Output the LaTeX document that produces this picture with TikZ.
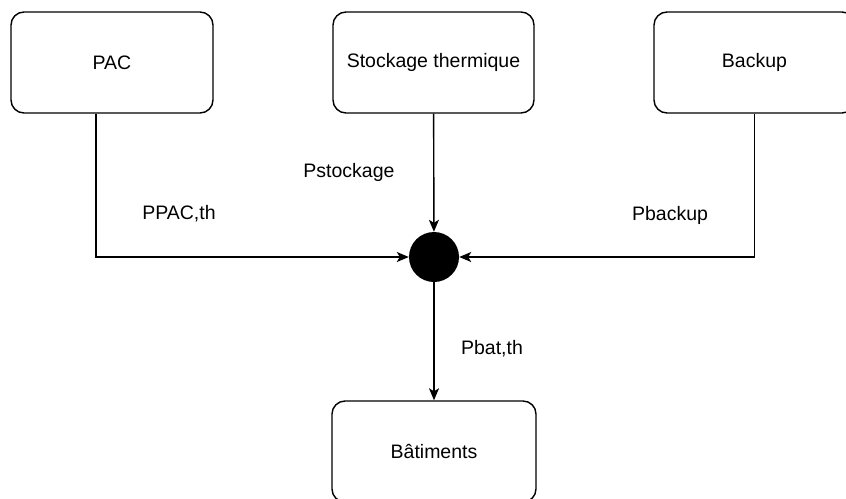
\documentclass[tikz,border=0pt]{standalone}
\usepackage{fontspec}
\setmainfont{Liberation Sans}
\usepackage{tikz}
\usetikzlibrary{arrows.meta, positioning}

\tikzset{
  bloc/.style={draw, line width=1.4pt, rounded corners=13pt, minimum height=101pt, align=center},
  flux/.style={line width=1.4pt, -{Stealth[length=12pt, width=10pt, inset=3pt]}},
  lbl/.style={inner sep=0pt}
}

\begin{document}
\begin{tikzpicture}[x=1pt, y=-1pt, every node/.style={font=\fontsize{19.5}{23}\selectfont}]
  \useasboundingbox (0,0) rectangle (846,498);
  \clip (0,0) rectangle (846,498);
  % blocs
  \node[bloc, minimum width=202pt] (pac) at (112,62.5) {PAC};
  \node[bloc, minimum width=201pt] (stock) at (433.5,62.5) {Stockage thermique};
  \node[bloc, minimum width=201pt] (backup) at (754.5,62.5) {Backup};
  \node[bloc, minimum width=204pt] (bat) at (434,451.5) {Bâtiments};
  \node[circle, fill=black, minimum size=50pt, inner sep=0pt] (hub) at (434,257) {};
  % flux
  \draw[flux] ([xshift=-16pt]pac.south) |- (hub);
  \draw[flux] (stock) -- (hub);
  \draw[flux] (backup) |- (hub);
  \draw[flux] (hub) -- (bat);
  % etiquettes
  \node[lbl] (ppac) at (179,214) {PPAC,th};
  \node[lbl] (pstock) at (349,172) {Pstockage};
  \node[lbl] (pback) at (670,215) {Pbackup};
  \node[lbl] (pbat) at (492,349) {Pbat,th};
\end{tikzpicture}
\end{document}
